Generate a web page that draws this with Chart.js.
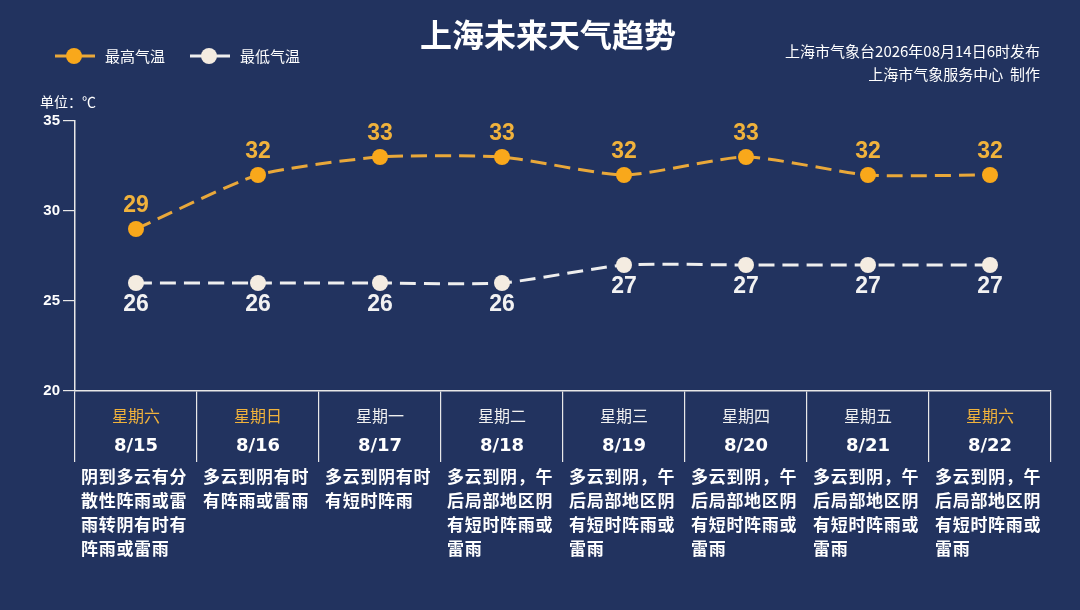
<!DOCTYPE html>
<html>
<head>
<meta charset="utf-8">
<script src="https://cdn.jsdelivr.net/npm/chart.js@4"></script>
<style>
  html, body { margin: 0; padding: 0; background: #22335f; }
  canvas { display: block; }
</style>
</head>
<body>
<canvas id="c" width="1080" height="610"></canvas>
<script>
// data
const days = ['星期六', '星期日', '星期一', '星期二', '星期三', '星期四', '星期五', '星期六'];
const dates = ['8/15', '8/16', '8/17', '8/18', '8/19', '8/20', '8/21', '8/22'];
const highTemps = [29, 32, 33, 33, 32, 33, 32, 32];
const lowTemps = [26, 26, 26, 26, 27, 27, 27, 27];
const weather = [
  '阴到多云有分散性阵雨或雷雨转阴有时有阵雨或雷雨',
  '多云到阴有时有阵雨或雷雨',
  '多云到阴有时有短时阵雨',
  '多云到阴，午后局部地区阴有短时阵雨或雷雨',
  '多云到阴，午后局部地区阴有短时阵雨或雷雨',
  '多云到阴，午后局部地区阴有短时阵雨或雷雨',
  '多云到阴，午后局部地区阴有短时阵雨或雷雨',
  '多云到阴，午后局部地区阴有短时阵雨或雷雨'
];
const seriesNames = ['最高气温', '最低气温'];
const yMin = 20, yMax = 35, yStep = 5;

const title = '上海未来天气趋势';
const issued = '上海市气象台2026年08月14日6时发布';
const maker = '上海市气象服务中心  制作';
const unit = '单位：℃';

const ORANGE = '#f9a81b';
const ORANGE_LINE = '#e9a83a';
const ORANGE_TXT = '#f0b23c';
const LOW_PT = '#f4ece1';
const LOW_LINE = '#eeeeee';
const CJK = '"Noto Sans CJK SC", "Noto Sans", sans-serif';

const extras = {
  id: 'extras',
  afterDraw(chart) {
    const ctx = chart.ctx;
    const xs = chart.scales.x;
    ctx.save();

    // title
    ctx.fillStyle = '#ffffff';
    ctx.textAlign = 'center';
    ctx.textBaseline = 'middle';
    ctx.font = 'bold 32px ' + CJK;
    ctx.fillText(title, 548, 35);

    // info on the right
    ctx.textAlign = 'right';
    ctx.font = '15px ' + CJK;
    ctx.fillText(issued, 1040, 51);
    ctx.fillText(maker, 1040, 74);

    // legend
    const leg = [
      {x: 55, line: ORANGE_LINE, pt: ORANGE, text: seriesNames[0]},
      {x: 190, line: LOW_LINE, pt: LOW_PT, text: seriesNames[1]}
    ];
    leg.forEach(l => {
      ctx.strokeStyle = l.line;
      ctx.lineWidth = 3;
      ctx.beginPath();
      ctx.moveTo(l.x, 56);
      ctx.lineTo(l.x + 40, 56);
      ctx.stroke();
      ctx.fillStyle = l.pt;
      ctx.beginPath();
      ctx.arc(l.x + 19, 56, 8, 0, Math.PI * 2);
      ctx.fill();
      ctx.fillStyle = '#ffffff';
      ctx.textAlign = 'left';
      ctx.font = '15px ' + CJK;
      ctx.fillText(l.text, l.x + 50, 56);
    });

    // unit
    ctx.font = '14px ' + CJK;
    ctx.fillText(unit, 40, 102);

    // data labels
    ctx.textAlign = 'center';
    ctx.font = 'bold 23px "Liberation Sans", Arial, sans-serif';
    const mh = chart.getDatasetMeta(0);
    const ml = chart.getDatasetMeta(1);
    mh.data.forEach((p, i) => {
      ctx.fillStyle = ORANGE_TXT;
      ctx.fillText(String(highTemps[i]), p.x, p.y - 23);
    });
    ml.data.forEach((p, i) => {
      ctx.fillStyle = '#f2f2f2';
      ctx.fillText(String(lowTemps[i]), p.x, p.y + 22);
    });

    // day / date table under the axis
    const colW = (xs.right - xs.left) / dates.length;
    dates.forEach((d, i) => {
      const cx = xs.getPixelForValue(i);
      const weekend = days[i] === '星期六' || days[i] === '星期日';
      ctx.textAlign = 'center';
      ctx.fillStyle = weekend ? ORANGE_TXT : '#f0f0f0';
      ctx.font = '16px ' + CJK;
      ctx.fillText(days[i], cx, 416);
      ctx.fillStyle = '#ffffff';
      ctx.font = 'bold 18px "DejaVu Sans", sans-serif';
      ctx.fillText(d, cx, 446);

      // weather text, 6 chars a line
      ctx.textAlign = 'left';
      ctx.font = 'bold 17px ' + CJK;
      const left = cx - colW / 2 + 6;
      const chars = Array.from(weather[i]);
      chars.forEach((ch, k) => {
        const row = Math.floor(k / 6), col = k % 6;
        ctx.fillText(ch, left + col * 17.7, 477 + row * 23.7);
      });
    });

    ctx.restore();
  }
};

new Chart(document.getElementById('c'), {
  type: 'line',
  data: {
    labels: dates,
    datasets: [
      {
        label: seriesNames[0],
        data: highTemps,
        borderColor: ORANGE_LINE,
        borderWidth: 3,
        borderDash: [16, 8],
        pointRadius: 8,
        pointBackgroundColor: ORANGE,
        pointBorderColor: ORANGE,
        pointBorderWidth: 0,
        tension: 0.2
      },
      {
        label: seriesNames[1],
        data: lowTemps,
        borderColor: LOW_LINE,
        borderWidth: 3,
        borderDash: [16, 8],
        pointRadius: 8,
        pointBackgroundColor: LOW_PT,
        pointBorderColor: LOW_PT,
        pointBorderWidth: 0,
        tension: 0.2
      }
    ]
  },
  options: {
    responsive: false,
    animation: false,
    devicePixelRatio: 1,
    layout: { padding: { left: 0, top: 121, right: 29, bottom: 0 } },
    plugins: { legend: { display: false }, title: { display: false }, tooltip: { enabled: false } },
    scales: {
      x: {
        type: 'category',
        offset: true,
        grid: { display: true, offset: true, drawOnChartArea: false, drawTicks: true, tickLength: 71, color: '#e8e8e8', lineWidth: 1.2 },
        border: { display: true, color: '#e8e8e8', width: 1.5 },
        ticks: { display: false },
        afterFit(s) { s.height = 219; }
      },
      y: {
        min: yMin,
        max: yMax,
        grid: { drawOnChartArea: false, drawTicks: true, tickLength: 12, color: '#e8e8e8', lineWidth: 1.2 },
        border: { display: true, color: '#e8e8e8', width: 1.5 },
        ticks: { stepSize: yStep, color: '#ffffff', padding: 3, font: { family: '"Liberation Sans", Arial, sans-serif', size: 15, weight: 'bold' } },
        afterFit(s) { s.width = 75; }
      }
    }
  },
  plugins: [extras]
});
</script>
</body>
</html>
